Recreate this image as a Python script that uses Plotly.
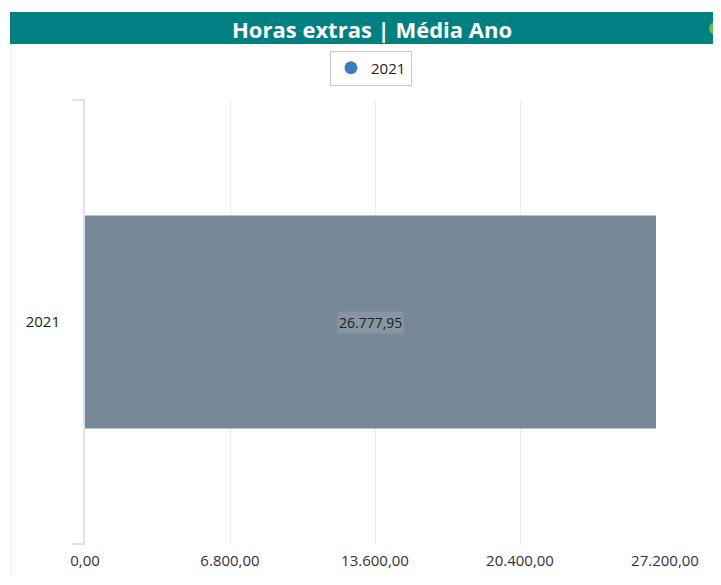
import plotly.graph_objects as go

categories = ["2021"]
values = [26777.95]
value_labels = ["26.777,95"]
tick_vals = [0, 6800, 13600, 20400, 27200]
tick_text = ["0,00", "6.800,00", "13.600,00", "20.400,00", "27.200,00"]
legend_names = ["2021"]

# page body has an 8px margin, so the figure is shifted by 8px
OFF = 8
W, H = 721 - 2 * OFF, 585 - 2 * OFF
L, R, T, B = 85 - OFF, (721 - OFF) - 665, 100 - OFF, (585 - OFF) - 544
PW, PH = W - L - R, H - T - B


def px(xr):
    """reference x pixel -> paper x"""
    return (xr - OFF - L) / PW


def py(yr):
    """reference y pixel -> paper y"""
    return 1 - (yr - OFF - T) / PH


FONT = "Open Sans"

fig = go.Figure()
fig.add_trace(go.Bar(
    y=categories, x=values, orientation="h",
    marker=dict(color="#778899", line=dict(width=0)),
    width=0.48, showlegend=False, hoverinfo="skip",
))
fig.add_trace(go.Scatter(
    x=[None], y=[None], mode="markers", name=legend_names[0],
    marker=dict(symbol="circle", size=13, color="#3b7dbd"),
))

for i, (v, t) in enumerate(zip(values, value_labels)):
    fig.add_annotation(
        x=v / 2, y=i, xref="x", yref="y", text=t, showarrow=False,
        font=dict(family=FONT, size=14, color="#1e1e1e"),
        bgcolor="#8796a5", borderpad=1,
    )

# title bar
fig.add_shape(type="rect", xref="paper", yref="paper",
              x0=px(10), x1=px(725), y0=py(44), y1=py(12),
              fillcolor="#008080", line=dict(width=0), layer="above")
fig.add_annotation(
    xref="paper", yref="paper", x=px(372), y=py(29),
    text="<b>Horas extras | Média Ano</b>", showarrow=False,
    font=dict(family=FONT, size=22, color="white"),
    xanchor="center", yanchor="middle",
)
# status dot
fig.add_shape(type="circle", xref="paper", yref="paper",
              x0=px(709), x1=px(722), y0=py(35), y1=py(22),
              fillcolor="#6cbf45", line=dict(width=0), layer="above")
# left panel border
fig.add_shape(type="line", xref="paper", yref="paper",
              x0=px(11), x1=px(11), y0=py(590), y1=py(44),
              line=dict(color="#ececec", width=1))
# axis bracket ends
for yy in (0, 1):
    fig.add_shape(type="line", xref="paper", yref="paper",
                  x0=px(72), x1=0, y0=yy, y1=yy,
                  line=dict(color="#dde3ee", width=2))

fig.update_layout(
    width=W, height=H,
    margin=dict(l=L, r=R, t=T, b=B, autoexpand=False),
    paper_bgcolor="white", plot_bgcolor="white",
    separators=",.",
    font=dict(family=FONT, size=15, color="#333333"),
    showlegend=True,
    legend=dict(
        orientation="h", x=px(371), xanchor="center",
        y=py(68), yanchor="middle",
        bordercolor="#c8c8c8", borderwidth=1, bgcolor="white",
        font=dict(size=15, color="#222222"),
        itemwidth=30,
    ),
    xaxis=dict(
        range=[0, 27200], tickvals=tick_vals, ticktext=tick_text,
        showgrid=True, gridcolor="#eaedf2", gridwidth=1,
        zeroline=False, showline=False, ticks="",
        tickfont=dict(size=15, color="#333333"),
        ticklabelstandoff=6, fixedrange=True,
    ),
    yaxis=dict(
        type="category",
        showline=True, linecolor="#dde3ee", linewidth=2,
        showgrid=False, zeroline=False, ticks="",
        tickfont=dict(size=15, color="#222222"),
        ticklabelstandoff=20, range=[-0.5, 0.5],
    ),
)

fig.write_html("out.html")
